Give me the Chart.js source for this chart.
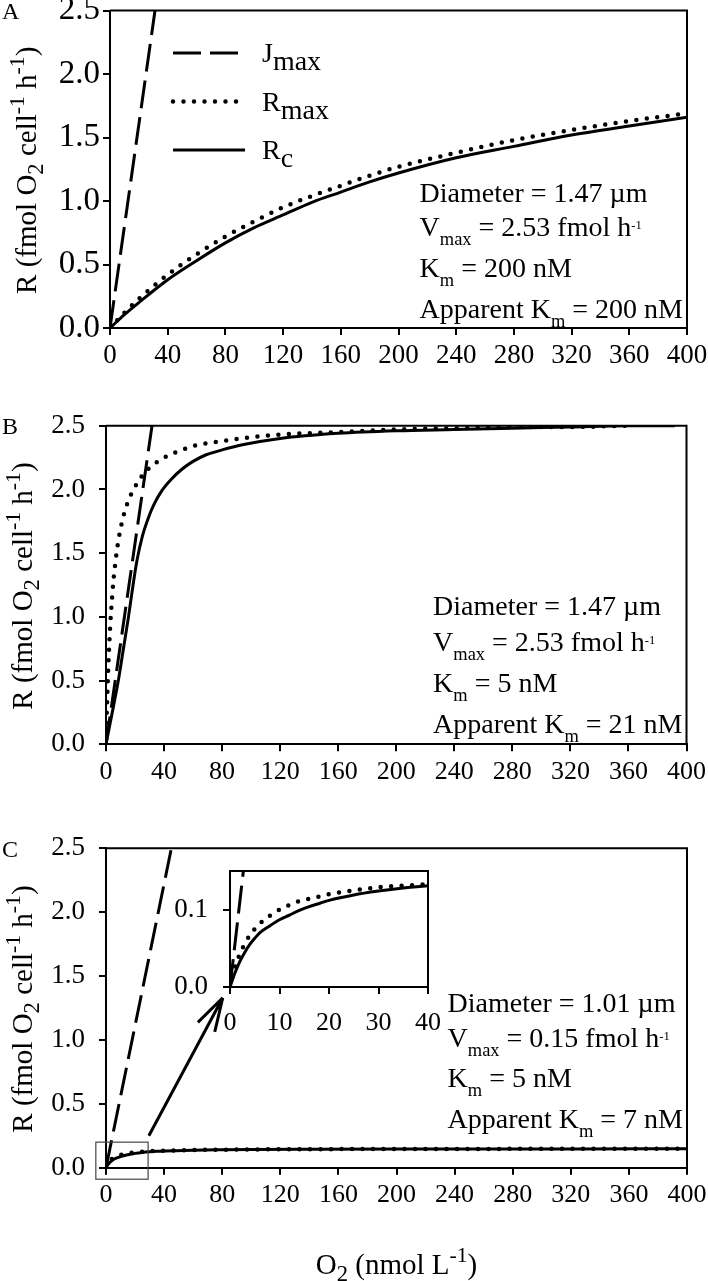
<!DOCTYPE html>
<html>
<head>
<meta charset="utf-8">
<script src="https://cdn.jsdelivr.net/npm/chart.js@4.4.0/dist/chart.umd.min.js"></script>
<style>
  body { margin: 0; background: #fff; width: 708px; height: 1281px; position: relative; overflow: hidden; }
  canvas { position: absolute; }
</style>
</head>
<body>
<canvas id="chartA" width="708" height="400" style="left:0;top:0"></canvas>
<canvas id="chartB" width="708" height="420" style="left:0;top:400px"></canvas>
<canvas id="chartC" width="708" height="461" style="left:0;top:820px"></canvas>
<canvas id="chartInset" width="300" height="185" style="left:150px;top:860px"></canvas>
<script>
// axis ticks
const o2Ticks = [0, 40, 80, 120, 160, 200, 240, 280, 320, 360, 400];
const rTicks = [0, 0.5, 1.0, 1.5, 2.0, 2.5];
const insetO2Ticks = [0, 10, 20, 30, 40];
const insetRTicks = [0, 0.1];

// panel A (Km = 200 nM)
const o2JmaxA = [0, 31.2];
const jmaxA = [0, 2.5];
const o2A = [0, 10, 20, 40, 60, 80, 100, 120, 140, 160, 180, 200, 240, 280, 320, 360, 400];
const rmaxA = [0, 0.12, 0.23, 0.42, 0.58, 0.72, 0.84, 0.95, 1.04, 1.12, 1.20, 1.27, 1.38, 1.48, 1.56, 1.63, 1.69];
const rcA = [0, 0.105, 0.20, 0.38, 0.53, 0.67, 0.79, 0.89, 0.99, 1.07, 1.15, 1.22, 1.34, 1.43, 1.52, 1.59, 1.66];

// panel B (Km = 5 nM)
const o2JmaxB = [0, 31.7];
const jmaxB = [0, 2.5];
const o2RmaxB = [0, 0.5, 1, 1.5, 2, 3, 4, 5, 6, 8, 10, 12, 15, 20, 25, 30, 40, 50, 60, 80, 100, 120, 160, 200, 240, 280, 320, 358];
const rmaxB = [0, 0.23, 0.42, 0.58, 0.72, 0.95, 1.12, 1.27, 1.38, 1.56, 1.69, 1.79, 1.90, 2.02, 2.11, 2.17, 2.25, 2.30, 2.34, 2.38, 2.41, 2.43, 2.45, 2.47, 2.48, 2.49, 2.49, 2.50];
const o2RcB = [0, 5, 8.5, 12, 15.5, 18, 21.3, 25, 29.3, 33, 38.5, 45, 52.5, 60, 68.6, 80, 94, 120, 160, 200, 240, 280, 320, 360, 392];
const rcB = [0, 0.29, 0.50, 0.75, 1.00, 1.20, 1.44, 1.63, 1.78, 1.88, 1.99, 2.08, 2.16, 2.22, 2.27, 2.31, 2.35, 2.40, 2.44, 2.46, 2.47, 2.48, 2.49, 2.50, 2.50];

// panel C (small cell) - also used by the inset
const o2JmaxC = [0, 45];
const jmaxC = [0, 2.5];
const o2C = [0, 1, 2, 3, 4, 5, 6, 8, 10, 12, 14, 16, 18, 20, 25, 30, 35, 40, 60, 80, 100, 140, 200, 260, 320, 400];
const rmaxC = [0, 0.025, 0.043, 0.056, 0.067, 0.075, 0.082, 0.092, 0.100, 0.106, 0.111, 0.114, 0.117, 0.120, 0.125, 0.129, 0.131, 0.133, 0.139, 0.141, 0.143, 0.145, 0.146, 0.147, 0.148, 0.148];
const rcC = [0, 0.018, 0.033, 0.045, 0.055, 0.063, 0.070, 0.079, 0.087, 0.093, 0.099, 0.104, 0.108, 0.112, 0.119, 0.124, 0.128, 0.131, 0.137, 0.140, 0.142, 0.144, 0.146, 0.147, 0.147, 0.148];

// text blocks
const notesA = [
  [['Diameter = 1.47 µm']],
  [['V'], ['max', 'sub'], [' = 2.53 fmol h'], ['-1', 'sup']],
  [['K'], ['m', 'sub'], [' = 200 nM']],
  [['Apparent K'], ['m', 'sub'], [' = 200 nM']]
];
const notesB = [
  [['Diameter = 1.47 µm']],
  [['V'], ['max', 'sub'], [' = 2.53 fmol h'], ['-1', 'sup']],
  [['K'], ['m', 'sub'], [' = 5 nM']],
  [['Apparent K'], ['m', 'sub'], [' = 21 nM']]
];
const notesC = [
  [['Diameter = 1.01 µm']],
  [['V'], ['max', 'sub'], [' = 0.15 fmol h'], ['-1', 'sup']],
  [['K'], ['m', 'sub'], [' = 5 nM']],
  [['Apparent K'], ['m', 'sub'], [' = 7 nM']]
];
const legendRows = [
  { label: 'Jmax', text: [['J'], ['max', 'sub']] },
  { label: 'Rmax', text: [['R'], ['max', 'sub']] },
  { label: 'Rc', text: [['R'], ['c', 'sub']] }
];
const yTitle = [['R (fmol O'], ['2', 'sub'], [' cell'], ['-1', 'sup'], [' h'], ['-1', 'sup'], [')']];
const xTitle = [['O'], ['2', 'sub'], [' (nmol L'], ['-1', 'sup'], [')']];

const SERIF = '"Liberation Serif", "Times New Roman", serif';
const noteStyle = { size: 28, subScale: 0.66, sub: 9, supScale: 0.45, sup: 7 };
const legendStyle = { size: 28, subScale: 1.0, sub: 8, supScale: 0.9, sup: 9 };
const titleStyle = { size: 29, subScale: 0.78, sub: 7, supScale: 0.75, sup: 12 };

function pts(xs, ys) {
  return xs.map((x, i) => ({ x: x, y: ys[i] }));
}

function lineSets(jx, jy, mx, my, cx, cy) {
  return [
    { label: 'Rc', data: pts(cx, cy), borderColor: '#000', borderWidth: 3,
      pointRadius: 0, cubicInterpolationMode: 'monotone' },
    { label: 'Rmax', data: pts(mx, my), borderColor: '#000', borderWidth: 4.5,
      borderDash: [0, 10.5], borderCapStyle: 'round', pointRadius: 0,
      cubicInterpolationMode: 'monotone' },
    { label: 'Jmax', data: pts(jx, jy), borderColor: '#000', borderWidth: 3,
      borderDash: [28, 9], pointRadius: 0 }
  ];
}

function setFont(ctx, s) {
  ctx.font = s + 'px ' + SERIF;
}

function richWidth(ctx, parts, st) {
  let w = 0;
  parts.forEach(p => {
    const s = p[1] === 'sub' ? st.size * st.subScale : p[1] === 'sup' ? st.size * st.supScale : st.size;
    setFont(ctx, s);
    w += ctx.measureText(p[0]).width;
  });
  return w;
}

function drawRich(ctx, parts, x, y, st, align) {
  const w = richWidth(ctx, parts, st);
  let cx = align === 'center' ? x - w / 2 : align === 'right' ? x - w : x;
  ctx.textAlign = 'left';
  ctx.textBaseline = 'alphabetic';
  ctx.fillStyle = '#000';
  parts.forEach(p => {
    let s = st.size, dy = 0;
    if (p[1] === 'sub') { s = st.size * st.subScale; dy = st.sub; }
    if (p[1] === 'sup') { s = st.size * st.supScale; dy = -st.sup; }
    setFont(ctx, s);
    ctx.fillText(p[0], cx, y + dy);
    cx += ctx.measureText(p[0]).width;
  });
}

function boxPlugin() {
  return {
    id: 'box',
    afterDraw(chart) {
      const ctx = chart.ctx, a = chart.chartArea;
      ctx.save();
      ctx.strokeStyle = '#000';
      ctx.lineWidth = 2;
      ctx.beginPath();
      ctx.moveTo(a.left, a.top);
      ctx.lineTo(a.right, a.top);
      ctx.lineTo(a.right, a.bottom);
      ctx.stroke();
      ctx.restore();
    }
  };
}

function decorPlugin(p) {
  return {
    id: 'decor',
    afterDraw(chart) {
      const ctx = chart.ctx, a = chart.chartArea;
      const xs = chart.scales.x, ys = chart.scales.y;
      ctx.save();

      // panel letter
      setFont(ctx, 24);
      ctx.fillStyle = '#000';
      ctx.textAlign = 'left';
      ctx.textBaseline = 'alphabetic';
      ctx.fillText(p.letter, 2, a.top + 8.5);

      // y axis title
      ctx.save();
      ctx.translate(a.left - 74, (a.top + a.bottom) / 2 + 1);
      ctx.rotate(-Math.PI / 2);
      drawRich(ctx, yTitle, 0, 0, titleStyle, 'center');
      ctx.restore();

      // parameter notes
      let wMax = 0;
      p.notes.forEach(n => { wMax = Math.max(wMax, richWidth(ctx, n, noteStyle)); });
      const nx = a.right - 4 - wMax;
      p.notes.forEach((n, i) => drawRich(ctx, n, nx, a.bottom + p.noteY[i], noteStyle, 'left'));

      // legend
      if (p.legend) {
        legendRows.forEach((row, i) => {
          const ds = chart.data.datasets.find(d => d.label === row.label);
          const y = a.top + 42.5 + i * 48.5;
          ctx.save();
          ctx.strokeStyle = '#000';
          ctx.lineWidth = ds.borderWidth;
          ctx.lineCap = ds.borderCapStyle || 'butt';
          ctx.setLineDash(ds.borderDash || []);
          ctx.beginPath();
          ctx.moveTo(a.left + 63, y);
          ctx.lineTo(a.left + 135, y);
          ctx.stroke();
          ctx.restore();
          drawRich(ctx, row.text, a.left + 152, y + 9, legendStyle, 'left');
        });
      }

      // x axis title
      if (p.xTitle) {
        drawRich(ctx, xTitle, (a.left + a.right) / 2, p.xTitleY, titleStyle, 'center');
      }

      // zoom box and arrow towards the inset
      if (p.zoom) {
        const z = p.zoom;
        ctx.strokeStyle = '#444';
        ctx.lineWidth = 1.2;
        ctx.setLineDash([]);
        const rx0 = xs.getPixelForValue(z.box[0]), rx1 = xs.getPixelForValue(z.box[1]);
        const ry0 = ys.getPixelForValue(z.box[2]), ry1 = ys.getPixelForValue(z.box[3]);
        ctx.strokeRect(rx0, ry1, rx1 - rx0, ry0 - ry1);

        const sx = xs.getPixelForValue(z.from[0]), sy = ys.getPixelForValue(z.from[1]);
        const tx = xs.getPixelForValue(z.to[0]), ty = ys.getPixelForValue(z.to[1]);
        ctx.strokeStyle = '#000';
        ctx.lineWidth = 3;
        ctx.lineCap = 'butt';
        ctx.beginPath();
        ctx.moveTo(sx, sy);
        ctx.lineTo(tx, ty);
        const ang = Math.atan2(sy - ty, sx - tx);
        [0.3, -0.26].forEach(d => {
          ctx.moveTo(tx, ty);
          ctx.lineTo(tx + 35 * Math.cos(ang + d), ty + 35 * Math.sin(ang + d));
        });
        ctx.stroke();
      }
      ctx.restore();
    }
  };
}

function axisOpts(tickVals, min, max, fmt, size, pad, fitFn) {
  return {
    type: 'linear',
    min: min,
    max: max,
    afterBuildTicks: s => { s.ticks = tickVals.map(v => ({ value: v })); },
    afterFit: fitFn,
    ticks: {
      color: '#000',
      font: { family: SERIF, size: size },
      padding: pad,
      autoSkip: false,
      maxRotation: 0,
      callback: fmt
    },
    grid: { drawOnChartArea: false, drawTicks: true, tickLength: 7, color: '#000', lineWidth: 2 },
    border: { display: true, color: '#000', width: 2 }
  };
}

function makeChart(p) {
  const canvas = document.getElementById(p.id);
  const W = canvas.width, H = canvas.height;
  const a = p.area;
  return new Chart(canvas, {
    type: 'line',
    data: { datasets: p.datasets },
    options: {
      responsive: false,
      animation: false,
      events: [],
      layout: { padding: { top: a.t, right: W - a.r, left: 0, bottom: 0 } },
      plugins: { legend: { display: false }, tooltip: { enabled: false } },
      scales: {
        x: axisOpts(p.xTicks, p.xMin, p.xMax, v => String(v), p.xFont, p.xPad, s => {
          s.height = H - a.b;
          s.paddingLeft = 0;
          s.paddingRight = 0;
        }),
        y: axisOpts(p.yTicks, p.yMin, p.yMax, v => v.toFixed(1), p.yFont, p.yPad, s => {
          s.width = a.l;
          s.paddingTop = 0;
          s.paddingBottom = 0;
        })
      }
    },
    plugins: p.decor ? [boxPlugin(), decorPlugin(p)] : [boxPlugin()]
  });
}

const mainAxes = { xTicks: o2Ticks, xMin: 0, xMax: 400, yTicks: rTicks, yMin: 0, yMax: 2.5, xPad: 5, yPad: 3 };

makeChart(Object.assign({}, mainAxes, {
  id: 'chartA', letter: 'A', decor: true, legend: true,
  area: { l: 110, t: 10.5, r: 687, b: 328 },
  xFont: 27, yFont: 33,
  datasets: lineSets(o2JmaxA, jmaxA, o2A, rmaxA, o2A, rcA),
  notes: notesA, noteY: [-126.5, -92, -51.5, -10]
}));

makeChart(Object.assign({}, mainAxes, {
  id: 'chartB', letter: 'B', decor: true,
  area: { l: 106, t: 25.7, r: 686.5, b: 344.3 },
  xFont: 26, yFont: 27, yPad: 14,
  datasets: lineSets(o2JmaxB, jmaxB, o2RmaxB, rmaxB, o2RcB, rcB),
  notes: notesB, noteY: [-129, -93.5, -52.5, -11]
}));

makeChart(Object.assign({}, mainAxes, {
  id: 'chartC', letter: 'C', decor: true, xTitle: true, xTitleY: 454,
  area: { l: 106, t: 28.3, r: 687, b: 347.7 },
  xFont: 26, yFont: 27, yPad: 14,
  datasets: lineSets(o2JmaxC, jmaxC, o2C, rmaxC, o2C, rcC),
  notes: notesC, noteY: [-156, -121, -81, -39.5],
  zoom: { box: [-7, 29, -0.09, 0.2], from: [29.5, 0.25], to: [80.4, 1.33] }
}));

makeChart({
  id: 'chartInset', decor: false,
  area: { l: 80, t: 11, r: 278, b: 127 },
  xTicks: insetO2Ticks, xMin: 0, xMax: 40, yTicks: insetRTicks, yMin: 0, yMax: 0.15,
  xFont: 26, yFont: 27, xPad: 14, yPad: 15,
  datasets: lineSets(o2JmaxC, jmaxC, o2C, rmaxC, o2C, rcC)
});
</script>
</body>
</html>
